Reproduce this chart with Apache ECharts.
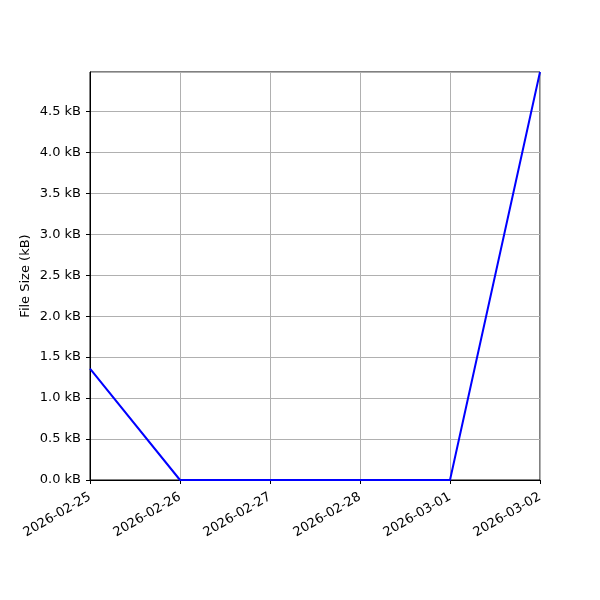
<!DOCTYPE html>
<html>
<head>
<meta charset="utf-8">
<script src="https://cdn.jsdelivr.net/npm/echarts@6/dist/echarts.min.js"></script>
<style>html,body{margin:0;padding:0;background:#fff}#c{width:600px;height:600px}</style>
</head>
<body>
<div id="c"></div>
<script>
const dates = ['2026-02-25','2026-02-26','2026-02-27','2026-02-28','2026-03-01','2026-03-02'];
const sizesKB = [1.36, 0, 0, 0, 0, 4.98];
const yMax = 4.98;
const font = 'DejaVu Sans';
const chart = echarts.init(document.getElementById('c'));
chart.setOption({
  animation: false,
  backgroundColor: '#fff',
  grid: {left: 90, right: 60, top: 72, bottom: 120, show: true, borderColor: '#000', borderWidth: 1, backgroundColor: 'transparent'},
  xAxis: {
    type: 'category', data: dates, boundaryGap: false,
    axisLine: {lineStyle: {color: '#000', width: 1}},
    axisTick: {show: true, length: 4, lineStyle: {color: '#000'}, alignWithLabel: true},
    axisLabel: {rotate: 30, color: '#000', fontFamily: font, fontSize: 13, margin: 16, interval: 0},
    splitLine: {show: true, lineStyle: {color: '#b0b0b0', width: 1}}
  },
  yAxis: {
    type: 'value', min: 0, max: yMax, interval: 0.5,
    name: 'File Size (kB)', nameLocation: 'middle', nameGap: 58, nameMoveOverlap: false,
    nameTextStyle: {color: '#000', fontFamily: font, fontSize: 13},
    axisLine: {show: true, lineStyle: {color: '#000', width: 1}},
    axisTick: {show: true, length: 4, lineStyle: {color: '#000'}},
    axisLabel: {color: '#000', fontFamily: font, fontSize: 13, margin: 9, showMaxLabel: false,
      formatter: v => v.toFixed(1) + ' kB'},
    splitLine: {show: true, lineStyle: {color: '#b0b0b0', width: 1}}
  },
  series: [{
    type: 'line', data: sizesKB, showSymbol: false, symbol: 'none',
    lineStyle: {color: '#0000ff', width: 2}, z: 5
  }]
});
</script>
</body>
</html>
